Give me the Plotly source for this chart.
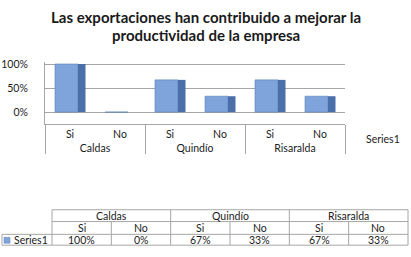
import plotly.graph_objects as go

title_lines = ["Las exportaciones han contribuido a mejorar la", "productividad de la empresa"]
group_names = ["Caldas", "Quindío", "Risaralda"]
groups = ["Caldas", "Caldas", "Quindío", "Quindío", "Risaralda", "Risaralda"]
answers = ["Si", "No", "Si", "No", "Si", "No"]
series_name = "Series1"
values = [1.00, 0.00, 0.67, 0.33, 0.67, 0.33]
y_ticks = [0, 0.5, 1.0]
y_tick_labels = ["0%", "50%", "100%"]

W, H = 411, 257
FONT = "Lato"
GRID = "#a6a6a6"
TXT = "#1a1a1a"


def px(x):
    return x / W


def py(y):
    return 1 - y / H


fig = go.Figure()
# front face
fig.add_trace(go.Bar(
    x=[groups, answers], y=values, width=0.46, offset=-0.3,
    marker=dict(color="#7fa4dc", line=dict(color="#5b80bb", width=0.6)),
    showlegend=False, hoverinfo="skip"))
# side face (pseudo 3D)
fig.add_trace(go.Bar(
    x=[groups, answers], y=values, width=0.15, offset=0.16,
    marker=dict(color="#4b6fa8", line=dict(width=0)),
    showlegend=False, hoverinfo="skip"))

fig.update_layout(
    width=W, height=H,
    margin=dict(l=0, r=0, t=0, b=0),
    paper_bgcolor="white", plot_bgcolor="white",
    barmode="overlay",
    font=dict(family=FONT, size=10.5, color=TXT),
    showlegend=False,
)

fig.update_xaxes(
    type="multicategory",
    domain=[px(45), px(345)],
    showgrid=False, showline=True, linecolor=GRID, linewidth=1,
    ticks="", tickfont=dict(size=10.5, family=FONT, color=TXT),
    showdividers=True, dividercolor=GRID, dividerwidth=1,
)
fig.update_yaxes(
    domain=[py(122), py(59)], range=[-0.25, 1.04],
    tickvals=y_ticks, ticktext=y_tick_labels,
    showgrid=True, gridcolor=GRID, gridwidth=1,
    showline=True, linecolor=GRID, zeroline=False,
    ticks="", ticklabelstandoff=14,
    tickfont=dict(size=10.5, family=FONT, color=TXT),
)


def ann(x, y, text, size=10.5, xanchor="center", bold=False):
    return dict(x=px(x), y=py(y), xref="paper", yref="paper", showarrow=False,
                xanchor=xanchor, yanchor="middle",
                text=("<b>%s</b>" % text) if bold else text,
                font=dict(size=size, family=FONT, color=TXT), align="center")


annotations = []
# title
annotations.append(ann(206, 13, title_lines[0], size=15, bold=True))
annotations.append(ann(206, 31, title_lines[1], size=15, bold=True))
# series (depth) label
annotations.append(ann(364, 137, series_name, xanchor="left"))

# ---- data table ----
tx0, tx1 = 52, 408
tleft = 2
r0, r1, r2, r3 = 209, 221, 234, 245
n = len(answers)
cw = (tx1 - tx0) / n
shapes = []


def hline(y, xa, xb):
    shapes.append(dict(type="line", xref="paper", yref="paper",
                       x0=px(xa), x1=px(xb), y0=py(y), y1=py(y),
                       line=dict(color=GRID, width=1)))


def vline(x, ya, yb):
    shapes.append(dict(type="line", xref="paper", yref="paper",
                       x0=px(x), x1=px(x), y0=py(ya), y1=py(yb),
                       line=dict(color=GRID, width=1)))


hline(r0, tx0, tx1)
hline(r1, tx0, tx1)
hline(r2, tleft, tx1)
hline(r3, tleft, tx1)
vline(tleft, r2, r3)
vline(tx0, r0, r3)
vline(tx1, r0, r3)
for i in range(1, n):
    if groups[i] != groups[i - 1]:
        vline(tx0 + i * cw, r0, r3)
    else:
        vline(tx0 + i * cw, r1, r3)

for g in group_names:
    idx = [i for i, gg in enumerate(groups) if gg == g]
    cx = tx0 + (idx[0] + idx[-1] + 1) / 2 * cw
    annotations.append(ann(cx, (r0 + r1) / 2, g))
for i, (a, v) in enumerate(zip(answers, values)):
    cx = tx0 + (i + 0.5) * cw
    annotations.append(ann(cx, (r1 + r2) / 2, a))
    annotations.append(ann(cx, (r2 + r3) / 2, f"{round(v * 100)}%"))
# legend key in table
shapes.append(dict(type="rect", xref="paper", yref="paper",
                   x0=px(4), x1=px(10), y0=py(243), y1=py(237),
                   fillcolor="#7fa4dc", line=dict(color="#5b80bb", width=0.5)))
annotations.append(ann(12, (r2 + r3) / 2, series_name, xanchor="left"))

fig.update_layout(shapes=shapes, annotations=annotations)
fig.write_html("out.html",
               config={"displayModeBar": False},
               post_script="document.body.style.margin='0';document.body.style.overflow='hidden';")
